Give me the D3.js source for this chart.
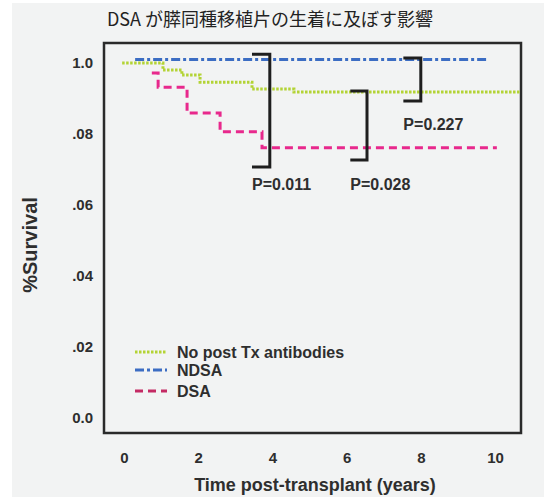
<!DOCTYPE html>
<html>
<head>
<meta charset="utf-8">
<script src="https://cdn.jsdelivr.net/npm/d3@7"></script>
<style>
  html, body { margin: 0; padding: 0; background: #ffffff; }
  svg { display: block; }
</style>
</head>
<body>
<svg id="chart" width="544" height="497"></svg>
<script>
// Kaplan–Meier style survival curves (time in years, survival fraction)
const titleText = "DSA が膵同種移植片の生着に及ぼす影響";
const xTicks = [0, 2, 4, 6, 8, 10];
const yTickValues = [0, 0.2, 0.4, 0.6, 0.8, 1.0];
const yTickLabels = ["0.0", ".02", ".04", ".06", ".08", "1.0"];

const seriesNames = ["No post Tx antibodies", "NDSA", "DSA"];
// step points: [time, survival]
const noAbSteps = [[-0.05, 1.0], [1.05, 0.98], [1.56, 0.966], [2.05, 0.946], [3.45, 0.927], [4.58, 0.918], [10.7, 0.918]];
const ndsaSteps = [[0.3, 1.01], [9.76, 1.01]];
const dsaSteps = [[0.75, 0.972], [0.92, 0.932], [1.7, 0.859], [2.59, 0.806], [3.72, 0.761], [10.05, 0.761]];

// significance brackets: x0,x1 in years, top/bottom survival, label and its level
const brackets = [
  { x0: 3.45, x1: 3.93, top: 1.025, bottom: 0.707, label: "P=0.011", labelY: 0.659 },
  { x0: 6.1, x1: 6.55, top: 0.921, bottom: 0.727, label: "P=0.028", labelY: 0.659 },
  { x0: 7.53, x1: 8.0, top: 1.014, bottom: 0.893, label: "P=0.227", labelY: 0.828 }
];

const svg = d3.select("#chart");
const W = 544, H = 497;
const frame = { left: 104, right: 521, top: 43, bottom: 433 };
const textColor = "#2e2e2e";
const boldFont = "'Liberation Sans', Arial, sans-serif";

// panel background
svg.append("rect").attr("x", 12).attr("y", 3).attr("width", W - 12).attr("height", H - 3)
  .attr("fill", "#f2f3f3");

const x = d3.scaleLinear().domain([0, 10]).range([124, 495]);
const y = d3.scaleLinear().domain([0, 1]).range([418, 63]);

// title
svg.append("text").attr("x", 270).attr("y", 26).attr("text-anchor", "middle")
  .attr("font-family", "'Noto Sans CJK JP', 'Noto Sans', sans-serif")
  .attr("font-size", 18).attr("fill", "#222").text(titleText);

// plot frame
svg.append("rect").attr("x", frame.left).attr("y", frame.top)
  .attr("width", frame.right - frame.left).attr("height", frame.bottom - frame.top)
  .attr("fill", "none").attr("stroke", "#2a2a2a").attr("stroke-width", 2.5);

// axes (labels only, no tick marks)
const xAxis = d3.axisBottom(x).tickValues(xTicks).tickSize(0).tickPadding(0).tickFormat(d3.format("d"));
const gx = svg.append("g").attr("transform", "translate(0,452)").call(xAxis);
gx.select(".domain").remove();
gx.selectAll("text").attr("font-family", boldFont).attr("font-weight", "bold")
  .attr("font-size", 15).attr("fill", textColor).attr("dy", "0.71em");

const yAxis = d3.axisLeft(y).tickValues(yTickValues).tickSize(0).tickPadding(0)
  .tickFormat((d, i) => yTickLabels[i]);
const gy = svg.append("g").attr("transform", "translate(93,0)").call(yAxis);
gy.select(".domain").remove();
gy.selectAll("text").attr("font-family", boldFont).attr("font-weight", "bold")
  .attr("font-size", 15).attr("fill", textColor);

// axis titles
svg.append("text").attr("transform", "translate(37,245) rotate(-90)")
  .attr("text-anchor", "middle").attr("font-family", boldFont).attr("font-weight", "bold")
  .attr("font-size", 20).attr("fill", textColor).text("%Survival");
svg.append("text").attr("x", 315).attr("y", 491).attr("text-anchor", "middle")
  .attr("font-family", boldFont).attr("font-weight", "bold")
  .attr("font-size", 18).attr("fill", textColor).text("Time post-transplant (years)");

// survival curves
const styles = [
  { color: "#b3d334", dash: "2.5,1.5", data: noAbSteps },
  { color: "#3c6dc3", dash: "9,3,3,3", data: ndsaSteps },
  { color: "#e8288c", dash: "8,5", data: dsaSteps }
];
const line = d3.line().x(d => x(d[0])).y(d => y(d[1])).curve(d3.curveStepAfter);
styles.forEach(s => {
  svg.append("path").datum(s.data).attr("d", line)
    .attr("fill", "none").attr("stroke", s.color).attr("stroke-width", 3)
    .attr("stroke-dasharray", s.dash);
});

// significance brackets
brackets.forEach(b => {
  svg.append("path")
    .attr("d", `M${x(b.x0)},${y(b.top)}H${x(b.x1)}V${y(b.bottom)}H${x(b.x0)}`)
    .attr("fill", "none").attr("stroke", "#1e1e1e").attr("stroke-width", 3);
  svg.append("text").attr("x", x(b.x0)).attr("y", y(b.labelY)).attr("dy", "0.35em")
    .attr("font-family", boldFont).attr("font-weight", "bold")
    .attr("font-size", 16).attr("fill", textColor).text(b.label);
});

// legend
const legendRows = [352, 370, 391];
seriesNames.forEach((name, i) => {
  const s = styles[i];
  svg.append("line").attr("x1", 135).attr("x2", 167).attr("y1", legendRows[i]).attr("y2", legendRows[i])
    .attr("stroke", i === 2 ? "#c42a64" : s.color).attr("stroke-width", 3)
    .attr("stroke-dasharray", s.dash);
  svg.append("text").attr("x", 177).attr("y", legendRows[i]).attr("dy", "0.35em")
    .attr("font-family", boldFont).attr("font-weight", "bold")
    .attr("font-size", 16).attr("fill", textColor).text(name);
});
</script>
</body>
</html>
